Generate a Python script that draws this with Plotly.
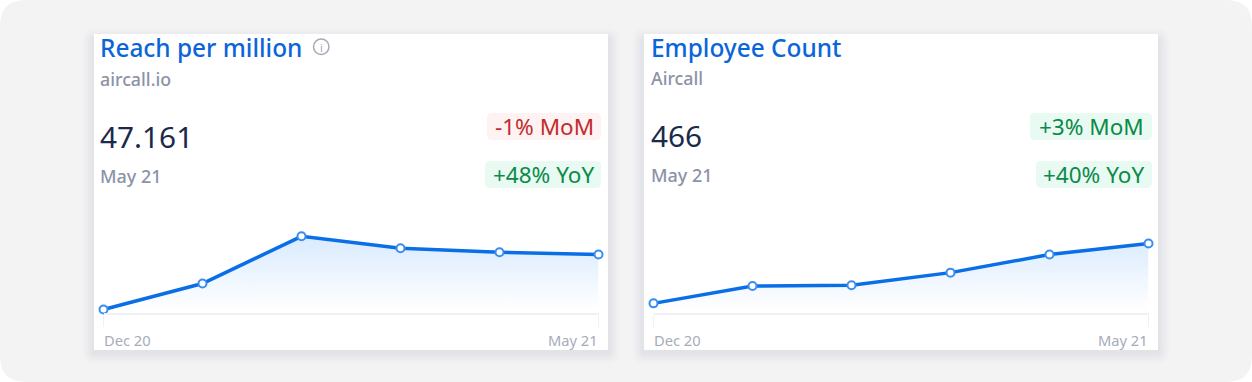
import plotly.graph_objects as go

W, H = 1252, 382
months = ["Dec 20", "Jan 21", "Feb 21", "Mar 21", "Apr 21", "May 21"]
reach = [33.4, 39.9, 51.7, 48.7, 47.7, 47.161]
employees = [390, 412, 413, 429, 452, 466]
tick_labels = ["Dec 20", "May 21"]

BLUE = "#0a6fe6"
TITLE = "#0a66d8"
NAVY = "#1b2a4a"
GREY = "#8b93a7"
FONT = "Noto Sans"


def px(x):
    return x / W


def py(y):
    return 1 - y / H


def rr(x0, y0, x1, y1, r):
    p = [
        ("M", x0 + r, y0), ("L", x1 - r, y0), ("Q", x1, y0, x1, y0 + r),
        ("L", x1, y1 - r), ("Q", x1, y1, x1 - r, y1), ("L", x0 + r, y1),
        ("Q", x0, y1, x0, y1 - r), ("L", x0, y0 + r), ("Q", x0, y0, x0 + r, y0),
    ]
    out = []
    for s in p:
        c = s[0]
        vals = s[1:]
        pts = []
        for i in range(0, len(vals), 2):
            pts.append(f"{px(vals[i]):.6f},{py(vals[i + 1]):.6f}")
        out.append(c + " ".join(pts))
    return " ".join(out) + " Z"


def box(x0, y0, x1, y1, r, fill, opacity=1):
    return dict(type="path", xref="paper", yref="paper", path=rr(x0, y0, x1, y1, r),
                fillcolor=fill, opacity=opacity, line=dict(width=0), layer="below")


def label(x, y, text, size, color, anchor="left", weight=400):
    return dict(xref="paper", yref="paper", x=px(x), y=py(y), text=text, showarrow=False,
                xanchor=anchor, yanchor="middle", borderpad=0,
                font=dict(family=FONT, size=size, color=color, weight=weight))


fig = go.Figure()
panels = [
    dict(vals=reach, xa="x", ya="y", rng=[32.53, 55.78]),
    dict(vals=employees, xa="x2", ya="y2", rng=[377.75, 495.85]),
]
for p in panels:
    fig.add_trace(go.Scatter(
        x=months, y=p["vals"], xaxis=p["xa"], yaxis=p["ya"], mode="lines+markers",
        line=dict(color=BLUE, width=3.5),
        marker=dict(size=8, color="white", line=dict(color="#3a8df0", width=2)),
        fill="tozeroy", fillcolor="rgba(0,0,0,0)",
        fillgradient=dict(type="vertical", start=p["rng"][1] - (p["rng"][1] - p["rng"][0]) * 0.17,
                          stop=p["rng"][0] + (p["rng"][1] - p["rng"][0]) * 0.03,
                          colorscale=[[0, "rgba(217,234,254,1)"], [1, "rgba(255,255,255,1)"]]),
        cliponaxis=False, showlegend=False, hoverinfo="skip",
    ))

axis_x = dict(type="category", range=[0, 5], showgrid=False, zeroline=False, showline=True,
              linecolor="#f0f1f4", linewidth=2, ticks="outside", ticklen=12, tickcolor="#f0f1f4",
              tickwidth=1, tickvals=tick_labels, showticklabels=False)
axis_y = dict(showgrid=False, zeroline=False, visible=False)

shapes = [box(0, 0, W, H, 26, "#f3f3f3")]
for cx0, cx1 in [(94, 608), (644, 1158)]:
    for g, op in [(12, 0.006), (10, 0.008), (8, 0.010), (6, 0.012), (4, 0.014), (2, 0.016)]:
        shapes.append(box(cx0 - g, 34 + 6 - g, cx1 + g, 350 + 2 + g, g + 1, "#1b2a4a", op))
    shapes.append(dict(type="rect", xref="paper", yref="paper", x0=px(cx0), x1=px(cx1),
                       y0=py(350), y1=py(34), fillcolor="white", line=dict(width=0), layer="below"))

RED_BG, GREEN_BG = "#fef3f2", "#e9faf2"
RED, GREEN = "#bf2d2d", "#0b8a4a"
shapes += [
    box(487, 113, 601, 140, 5, RED_BG), box(485, 161, 601, 188, 5, GREEN_BG),
    box(1030, 113, 1152, 140, 5, GREEN_BG), box(1036, 161, 1152, 188, 5, GREEN_BG),
    dict(type="circle", xref="paper", yref="paper", x0=px(313.5), x1=px(329), y0=py(54.5), y1=py(39),
         line=dict(color="#a4abb8", width=1.5), fillcolor="rgba(0,0,0,0)", layer="above"),
]

annotations = [
    label(98.5, 47.5, "Reach per million", 24.4, TITLE, weight=500),
    label(98.5, 79.5, "aircall.io", 17.8, GREY, weight=500),
    label(98.5, 136.5, "47.161", 29.8, NAVY),
    label(98.5, 175.5, "May 21", 18, GREY, weight=500),
    label(321.2, 47, "i", 11, "#a4abb8", "center"),
    label(594.5, 126.5, "-1% MoM", 22.5, RED, "right"),
    label(594.5, 175, "+48% YoY", 22.5, GREEN, "right"),
    label(103, 340, tick_labels[0], 14.7, "#a6acba"),
    label(598.5, 340, tick_labels[1], 14.7, "#a6acba", "right"),
    label(649.5, 47.5, "Employee Count", 24.4, TITLE, weight=500),
    label(649.5, 78, "Aircall", 17.8, GREY, weight=500),
    label(649.5, 135.5, "466", 29.8, NAVY),
    label(649.5, 175, "May 21", 18, GREY, weight=500),
    label(1144.5, 126.5, "+3% MoM", 22.5, GREEN, "right"),
    label(1144.5, 175, "+40% YoY", 22.5, GREEN, "right"),
    label(653, 340, tick_labels[0], 14.7, "#a6acba"),
    label(1148.5, 340, tick_labels[1], 14.7, "#a6acba", "right"),
]

fig.update_layout(
    width=W, height=H, margin=dict(l=0, r=0, t=0, b=0, pad=0),
    paper_bgcolor="white", plot_bgcolor="rgba(0,0,0,0)",
    font=dict(family=FONT), shapes=shapes, annotations=annotations,
    xaxis={**axis_x, "domain": [px(103.5), px(598.5)], "anchor": "y"},
    xaxis2={**axis_x, "domain": [px(653.5), px(1148.5)], "anchor": "y2"},
    yaxis={**axis_y, "domain": [py(313), py(220)], "range": panels[0]["rng"], "anchor": "x"},
    yaxis2={**axis_y, "domain": [py(313), py(220)], "range": panels[1]["rng"], "anchor": "x2"},
)

fig.write_html("out.html", config={"displayModeBar": False},
               post_script="document.body.style.margin='0';document.body.style.overflow='hidden';")
